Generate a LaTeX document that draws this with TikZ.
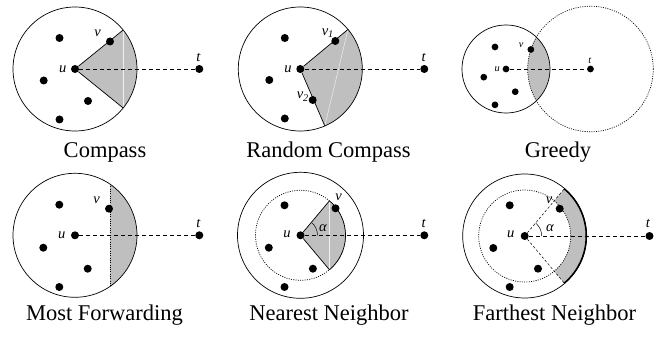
\documentclass[tikz,border=0pt]{standalone}
\usepackage{fontspec}
\setmainfont{Liberation Serif}
\begin{document}
\begin{tikzpicture}[x=1pt, y=1pt, line width=0.7pt]
    % styles
    \tikzset{
        dot/.style={circle, fill, inner sep=0pt, minimum size=8pt},
        lbl/.style={font=\fontsize{14.5}{16}\selectfont\itshape, inner sep=1pt},
        captxt/.style={font=\fontsize{22.5}{26}\selectfont, anchor=base},
        reg/.style={fill=gray!50},
        chord/.style={draw=gray!12, line width=0.5pt},
        tline/.style={dash pattern=on 4pt off 3pt},
        dots/.style={dash pattern=on 1pt off 1.3pt, line width=0.7pt},
        ray/.style={dash pattern=on 2.5pt off 2pt, line width=0.5pt}
    }
    \useasboundingbox (0,0) rectangle (665,343);

    % Compass
    \begin{scope}[shift={(75,274)}, name prefix=cp-]
        \fill[reg] (0,0) -- (39:62) arc[start angle=39, end angle=-39, radius=62] -- cycle;
        \draw[chord] (39:62) -- (-39:62);
        \draw (0,0) circle[radius=62];
        \node[dot] (u) at (0,0) {};
        \node[dot] (t) at (124.3,0) {};
        \node[dot] (a) at (-15.5,31) {};
        \node[dot] (v) at (35,27.5) {};
        \node[dot] (b) at (-31.3,-11.5) {};
        \node[dot] (c) at (13,-32) {};
        \node[dot] (d) at (-15.5,-50.5) {};
        \draw (39:62) -- (u) -- (-39:62);
        \draw[tline] (u) -- (t);
        \node[lbl] (ul) at (-12.3,0) {u};
        \node[lbl] (vl) at (22.7,35.7) {v};
        \node[lbl] (tl) at (123.3,11.7) {t};
    \end{scope}
    \node[captxt] (cap1) at (105,185) {Compass};

    % Random Compass
    \begin{scope}[shift={(300.3,274)}, name prefix=rc-]
        \fill[reg] (0,0) -- (39.7:62) arc[start angle=39.7, end angle=-66.7, radius=62] -- cycle;
        \draw[chord] (39.7:62) -- (-66.7:62);
        \draw (0,0) circle[radius=62];
        \node[dot] (u) at (0,0) {};
        \node[dot] (t) at (124,0) {};
        \node[dot] (a) at (-15.5,31) {};
        \node[dot] (v1) at (35,28) {};
        \node[dot] (b) at (-31,-11) {};
        \node[dot] (v2) at (12.4,-31) {};
        \node[dot] (d) at (-15.5,-49.5) {};
        \draw (39.7:62) -- (u) -- (-66.7:62);
        \draw[tline] (u) -- (t);
        \node[lbl] (ul) at (-12.3,0) {u};
        \node[lbl] (v1l) at (27.5,35.7) {v\textsubscript{1}};
        \node[lbl] (v2l) at (2.5,-27.7) {v\textsubscript{2}};
        \node[lbl] (tl) at (123.4,11.7) {t};
    \end{scope}
    \node[captxt] (cap2) at (328.5,185) {Random Compass};

    % Greedy
    \begin{scope}[shift={(506,274)}, scale=0.71, transform shape, name prefix=gr-,
                  dot/.append style={minimum size=9.5pt}]
        \begin{scope}
            \clip (0,0) circle[radius=62];
            \fill[reg] (119,0) circle[radius=88.4];
        \end{scope}
        \draw (0,0) circle[radius=62];
        \draw[dots] (119,0) circle[radius=88.4];
        \node[dot] (u) at (0,0) {};
        \node[dot] (t) at (119,0) {};
        \node[dot] (a) at (-15.5,31) {};
        \node[dot] (v) at (35,27.5) {};
        \node[dot] (b) at (-31.3,-11.5) {};
        \node[dot] (c) at (13,-32) {};
        \node[dot] (d) at (-15.5,-50.5) {};
        \draw[tline] (u) -- (t);
        \node[lbl] (ul) at (-12.3,0) {u};
        \node[lbl] (vl) at (21.5,33.8) {v};
        \node[lbl] (tl) at (118,11.7) {t};
    \end{scope}
    \node[captxt] (cap3) at (558,185) {Greedy};

    % Most Forwarding
    \begin{scope}[shift={(75,107.7)}, name prefix=mf-]
        \fill[reg] (35,51.2) arc[start angle=55.6, end angle=-55.6, radius=62] -- cycle;
        \draw[dots] (35,51.2) -- (35,-51.2);
        \draw (0,0) circle[radius=62];
        \node[dot] (u) at (0,0) {};
        \node[dot] (t) at (124.3,0) {};
        \node[dot] (a) at (-15.7,30.6) {};
        \node[dot] (v) at (34,26.6) {};
        \node[dot] (b) at (-31.7,-12.4) {};
        \node[dot] (c) at (12.7,-33.4) {};
        \node[dot] (d) at (-15.7,-51.7) {};
        \draw[tline] (u) -- (t);
        \node[lbl] (ul) at (-13.3,0) {u};
        \node[lbl] (vl) at (21.7,35) {v};
        \node[lbl] (tl) at (123.3,11.6) {t};
    \end{scope}
    \node[captxt] (cap4) at (104.5,22) {Most Forwarding};

    % Nearest Neighbor
    \begin{scope}[shift={(300.5,107.7)}, name prefix=nn-]
        \draw[dots] (0,0) circle[radius=45];
        \fill[reg] (0,0) -- (50:45) arc[start angle=50, end angle=-50, radius=45] -- cycle;
        \draw[chord] (50:45) -- (-50:45);
        \draw (0,0) circle[radius=63];
        \node[dot] (u) at (0,0) {};
        \node[dot] (t) at (123.8,0) {};
        \node[dot] (a) at (-16,30) {};
        \node[dot] (v) at (35,27) {};
        \node[dot] (b) at (-31.7,-12.4) {};
        \node[dot] (c) at (12.4,-33.4) {};
        \node[dot] (d) at (-16,-51.7) {};
        \draw (50:45) arc[start angle=50, end angle=-50, radius=45];
        \draw (50:45) -- (u) -- (-50:45);
        \draw[line width=0.5pt] (0:17) arc[start angle=0, end angle=50, radius=17];
        \draw[tline] (u) -- (t);
        \node[lbl] (ul) at (-13.5,0.6) {u};
        \node[lbl] (vl) at (38.2,38.3) {v};
        \node[lbl] (tl) at (123.2,11.6) {t};
        \node[lbl] (al) at (22.5,7.3) {α};
    \end{scope}
    \node[captxt] (cap5) at (329,22) {Nearest Neighbor};

    % Farthest Neighbor
    \begin{scope}[shift={(524.7,107)}, name prefix=fn-]
        \fill[reg] (50:46) -- (50:62) arc[start angle=50, end angle=-50, radius=62]
            -- (-50:46) arc[start angle=-50, end angle=50, radius=46] -- cycle;
        \draw[dots] (0,0) circle[radius=46];
        \draw (0,0) circle[radius=62];
        \draw[line width=1.4pt] (50:61.5) arc[start angle=50, end angle=-50, radius=61.5];
        \node[dot] (u) at (0,0) {};
        \node[dot] (t) at (124.8,0) {};
        \node[dot] (a) at (-15,30.7) {};
        \node[dot] (v) at (35,27.3) {};
        \node[dot] (b) at (-31.4,-12) {};
        \node[dot] (c) at (13.3,-32.7) {};
        \node[dot] (d) at (-15,-51) {};
        \draw[ray] (u) -- (50:62);
        \draw[ray] (u) -- (-50:62);
        \draw[line width=0.5pt] (0:17) arc[start angle=0, end angle=50, radius=17];
        \draw[tline] (u) -- (t);
        \node[lbl] (ul) at (-14,1.3) {u};
        \node[lbl] (vl) at (24.3,35.7) {v};
        \node[lbl] (tl) at (123.3,12.3) {t};
        \node[lbl] (al) at (25.3,8) {α};
    \end{scope}
    \node[captxt] (cap6) at (554.5,22) {Farthest Neighbor};
\end{tikzpicture}
\end{document}
